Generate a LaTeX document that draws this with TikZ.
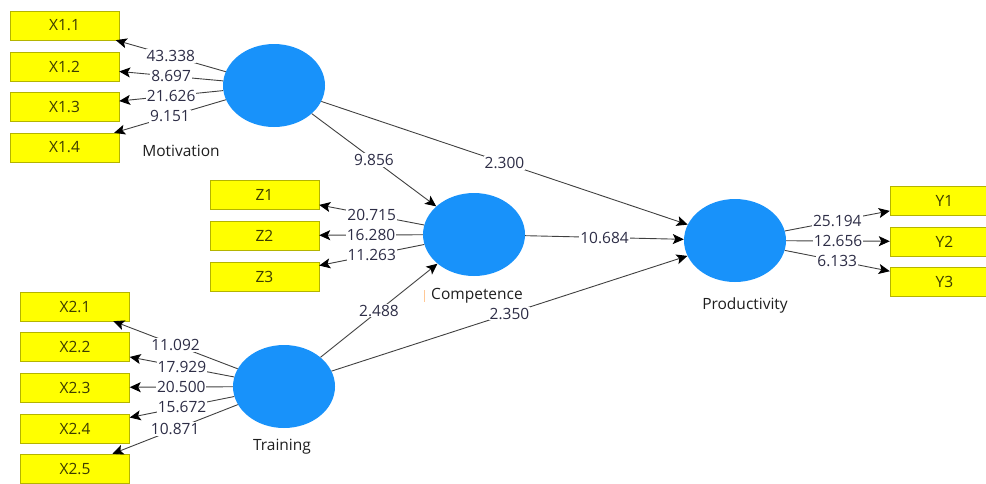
\documentclass[tikz,border=0pt]{standalone}
\usepackage{fontspec}
\setmainfont{Open Sans}
\usetikzlibrary{shapes.geometric,arrows.meta}

\begin{document}
\begin{tikzpicture}[x=1pt,y=-1pt,
	indbox/.style={draw=custcol_b4_b4_00, fill=custcol_ff_ff_00, minimum width=109pt, minimum height=29pt, inner sep=0, text=custcol_3c_3c_00, font=\fontsize{15.5pt}{15.5pt}\selectfont},
	latent/.style={ellipse, fill=custcol_1e_90_ff, minimum width=102pt, minimum height=83pt, inner sep=0},
	conn/.style={draw=custcol_40_40_40, line width=0.9pt, -{Stealth[length=11pt,width=10pt,inset=2.5pt,color=black]}},
	coef/.style={fill=white, inner sep=1pt, text=custcol_2d_2d_46, font=\fontsize{15.5pt}{15.5pt}\selectfont},
	lvname/.style={inner sep=0, text=custcol_1e_1e_1e, font=\fontsize{15.5pt}{15.5pt}\selectfont}]
	\definecolor{custcol_ff_ff_00}{RGB}{255, 255, 0}
	\definecolor{custcol_b4_b4_00}{RGB}{180, 180, 0}
	\definecolor{custcol_3c_3c_00}{RGB}{60, 60, 0}
	\definecolor{custcol_1e_90_ff}{RGB}{24, 146, 250}
	\definecolor{custcol_40_40_40}{RGB}{64, 64, 64}
	\definecolor{custcol_2d_2d_46}{RGB}{45, 45, 70}
	\definecolor{custcol_1e_1e_1e}{RGB}{30, 30, 30}
	\definecolor{custcol_ff_c8_96}{RGB}{255, 200, 150}
	\useasboundingbox (0,0) rectangle (986,483);
	% latent variables
	\node[latent] (mot) at (274,85.5) {};
	\node[latent] (comp) at (474,234.5) {};
	\node[latent] (train) at (284,386.5) {};
	\node[latent] (prod) at (735,240.5) {};
	\node[lvname] (motlbl) at (181,151) {Motivation};
	\node[lvname] (complbl) at (477,296) {Competence};
	\node[lvname] (trainlbl) at (282,447) {Training};
	\node[lvname] (prodlbl) at (745,305) {Productivity};
	\draw[custcol_ff_c8_96, line width=1pt] (424,290) -- (424,302);
	% indicators
	\node[indbox] (x11) at (64.5,25.5) {X1.1};
	\node[indbox] (x12) at (64.5,66.5) {X1.2};
	\node[indbox] (x13) at (64.5,106.5) {X1.3};
	\node[indbox] (x14) at (64.5,147.5) {X1.4};
	\node[indbox] (z1) at (264.5,194.5) {Z1};
	\node[indbox] (z2) at (264.5,235.5) {Z2};
	\node[indbox] (z3) at (264.5,276.5) {Z3};
	\node[indbox] (x21) at (75,306.5) {X2.1};
	\node[indbox] (x22) at (75,346.5) {X2.2};
	\node[indbox] (x23) at (75,387.5) {X2.3};
	\node[indbox] (x24) at (75,428.5) {X2.4};
	\node[indbox] (x25) at (75,468.5) {X2.5};
	\node[indbox] (y1) at (944.5,200.5) {Y1};
	\node[indbox] (y2) at (944.5,241.5) {Y2};
	\node[indbox] (y3) at (944.5,282) {Y3};
	% outer model
	\draw[conn] (mot) -- node[coef] {43.338} (x11);
	\draw[conn] (mot) -- node[coef] {8.697} (x12);
	\draw[conn] (mot) -- node[coef] {21.626} (x13);
	\draw[conn] (mot) -- node[coef] {9.151} (x14);
	\draw[conn] (comp) -- node[coef] {20.715} (z1);
	\draw[conn] (comp) -- node[coef] {16.280} (z2);
	\draw[conn] (comp) -- node[coef] {11.263} (z3);
	\draw[conn] (train) -- node[coef] {11.092} (x21);
	\draw[conn] (train) -- node[coef] {17.929} (x22);
	\draw[conn] (train) -- node[coef] {20.500} (x23);
	\draw[conn] (train) -- node[coef] {15.672} (x24);
	\draw[conn] (train) -- node[coef] {10.871} (x25);
	\draw[conn] (prod) -- node[coef] {25.194} (y1);
	\draw[conn] (prod) -- node[coef] {12.656} (y2);
	\draw[conn] (prod) -- node[coef] {6.133} (y3);
	% inner model
	\draw[conn] (mot) -- node[coef] {9.856} (comp);
	\draw[conn] (mot) -- node[coef] {2.300} (prod);
	\draw[conn] (comp) -- node[coef] {10.684} (prod);
	\draw[conn] (train) -- node[coef] {2.488} (comp);
	\draw[conn] (train) -- node[coef] {2.350} (prod);
\end{tikzpicture}
\end{document}
